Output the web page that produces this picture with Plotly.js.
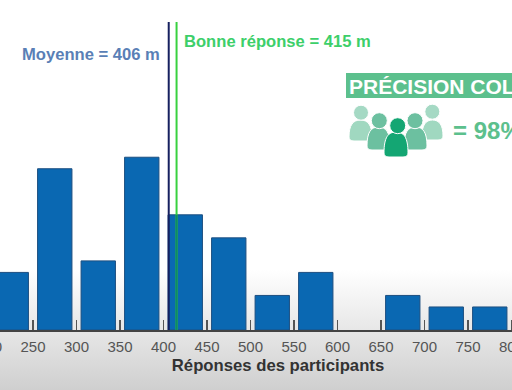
<!DOCTYPE html>
<html><head><meta charset="utf-8">
<script src="https://cdn.plot.ly/plotly-3.0.1.min.js"></script>
<style>
html,body{margin:0;padding:0;width:512px;height:390px;overflow:hidden;background:linear-gradient(to bottom,#fff 0,#fff 270px,#cfcfcf 390px);}
#c{position:absolute;left:-60px;top:0;width:676px;height:390px;}
</style></head><body><div id="c"></div>
<script>
const binCentres=[225,275,325,375,425,475,525,575,625,675,725,775];
const counts=[5,14,6,15,10,8,3,5,0,3,2,2];
const meanValue=406, trueValue=415;
const meanLabel="Moyenne = 406 m", trueLabel="Bonne réponse = 415 m";
const boxLabel="PRÉCISION COLLECTIVE", pctLabel="= 98%";
const xTitle="Réponses des participants";
const W=676,H=390,PH=330,OX=60;
const px=x=>(x+OX)/W, py=y=>1-y/PH;
const head=(cx,cy,r,c)=>({type:'circle',xref:'paper',yref:'paper',x0:px(cx-r),x1:px(cx+r),y0:py(cy+r),y1:py(cy-r),fillcolor:c,line:{color:'#fff',width:1},layer:'above'});
const body=(a,b,t,u,c)=>{const m=(a+b)/2,k=(b-a)*0.32;
 return {type:'path',xref:'paper',yref:'paper',
 path:`M ${px(a)},${py(u-4)} C ${px(a)},${py(t+5)} ${px(m-k)},${py(t)} ${px(m)},${py(t)} C ${px(m+k)},${py(t)} ${px(b)},${py(t+5)} ${px(b)},${py(u-4)} Q ${px(b)},${py(u)} ${px(b-5)},${py(u)} L ${px(a+5)},${py(u)} Q ${px(a)},${py(u)} ${px(a)},${py(u-4)} Z`,
 fillcolor:c,line:{color:'#fff',width:1},layer:'above'};};
const person=(cx,cy,r,a,b,t,u,hc,bc)=>[body(a,b,t,u,bc),head(cx,cy,r,hc)];
const shapes=[
 {type:'line',xref:'x',yref:'paper',x0:meanValue,x1:meanValue,y0:0,y1:py(22),line:{color:'#16205f',width:2},layer:'above'},
 {type:'line',xref:'x',yref:'paper',x0:trueValue,x1:trueValue,y0:0,y1:py(22),line:{color:'#38d13f',width:2},layer:'above'},
 {type:'line',xref:'x',yref:'y',x0:trueValue,x1:trueValue,y0:0,y1:10,line:{color:'#0f8a62',width:2},layer:'above'},
 {type:'rect',xref:'paper',yref:'paper',x0:px(346),x1:px(615),y0:py(98),y1:py(73),fillcolor:'#5cc08d',line:{width:0},layer:'above'},
 ...person(361,112.7,7.5,349,372,120,141,'#a5d9c4','#a0d8c0'),
 ...person(432.3,111.7,7.5,422,443,120,140,'#a5d9c4','#a0d8c0'),
 ...person(379.3,120.7,8,367,390,127,150,'#6cc0a0','#6cc0a0'),
 ...person(415,120.7,8,404,427,127,150,'#6cc0a0','#6cc0a0'),
 ...person(397.7,125.7,8,384,408,132,157,'#14a673','#14a673')
];
const font='"Liberation Sans",Arial,sans-serif';
const ann=(t,x,y,size,color)=>({text:'<b>'+t+'</b>',xref:'paper',yref:'paper',x:px(x),y:py(y),xanchor:'left',yanchor:'middle',showarrow:false,borderpad:0,font:{family:font,size:size,color:color}});
const annotations=[
 ann(meanLabel,21,55,16.6,'#5a7fb6'),
 ann(trueLabel,183,42,16.6,'#3dcf6a'),
 ann(boxLabel,348,86,21,'#ffffff'),
 ann(pctLabel,452,130,24,'#5cc08d')
];
Plotly.newPlot('c',[{type:'bar',x:binCentres,y:counts,width:39.5,marker:{color:'#0a68b2',line:{color:'#1d4f80',width:counts.map(v=>v>0?1:0)}},hoverinfo:'x+y'}],{
 width:W,height:H,margin:{l:0,r:0,t:0,b:60,pad:0},
 paper_bgcolor:'rgba(0,0,0,0)',plot_bgcolor:'rgba(0,0,0,0)',showlegend:false,
 xaxis:{range:[143.1,920.1],tick0:150,dtick:50,ticks:'inside',ticklen:10,tickwidth:1.5,tickcolor:'#555',showgrid:false,zeroline:false,showline:true,linecolor:'#444',linewidth:2,
  ticklabelstandoff:2,tickfont:{family:font,size:15,color:'#555'},title:{text:'<b>'+xTitle+'</b>',font:{family:font,size:16.7,color:'#333'},standoff:5}},
 yaxis:{range:[0,28.65],visible:false},
 shapes:shapes,annotations:annotations
},{displayModeBar:false,staticPlot:true});
</script></body></html>
